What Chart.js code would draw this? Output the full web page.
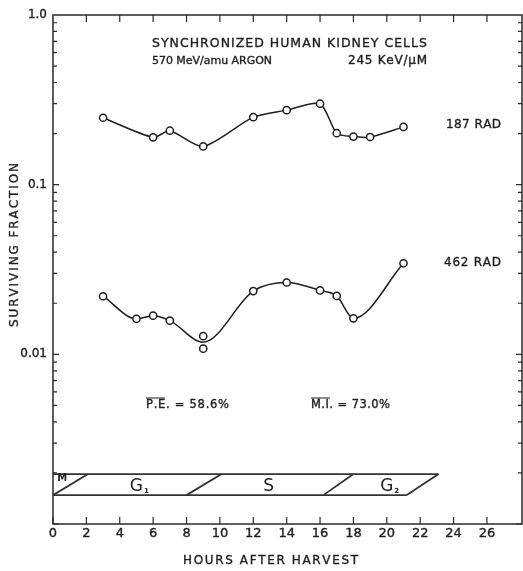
<!DOCTYPE html>
<html>
<head>
<meta charset="utf-8">
<script src="https://cdn.jsdelivr.net/npm/chart.js@4.4.1/dist/chart.umd.min.js"></script>
<style>
  html, body { margin: 0; padding: 0; background: #fff; }
  .chart-wrapper { position: relative; width: 523px; height: 571px; }
</style>
</head>
<body>
<div class="chart-wrapper"><canvas id="myChart"></canvas></div>
<script>
// surviving fraction vs hours after harvest
const hours187 = [3, 6, 7, 9, 12, 14, 16, 17, 18, 19, 21];
const fraction187 = [0.248, 0.19, 0.208, 0.168, 0.25, 0.275, 0.30, 0.201, 0.192, 0.191, 0.219];

const hours462 = [3, 5, 6, 7, 9, 9, 12, 14, 16, 17, 18, 21];
const fraction462 = [0.0220, 0.0162, 0.0169, 0.0158, 0.0128, 0.0108, 0.0236, 0.0265, 0.0238, 0.0221, 0.0163, 0.0344];

// the hand drawn curve for 462 rad runs between the two 9 h points
const curveHours462 = [3, 5, 6, 7, 9, 12, 14, 16, 17, 18, 21];
const curveFraction462 = [0.0220, 0.0162, 0.0169, 0.0158, 0.0118, 0.0236, 0.0265, 0.0238, 0.0221, 0.0163, 0.0344];

// cell cycle band at the bottom
const bandTop = 0.00197;
const bandBottom = 0.00148;
const phaseStartBottom = [0, 8.0, 16.2, 21.2];
const phaseStartTop = [2.1, 10.1, 18.0, 23.1];
const phaseNames = ['M', 'G', 'S', 'G'];
const phaseSubs = ['', '1', '', '2'];
const phaseLabelHours = [0.5, 4.6, 12.6, 19.6];
const phaseLabelFractions = [0.00186, 0.00166, 0.00166, 0.00166];

// axes
const xTickHours = [0, 2, 4, 6, 8, 10, 12, 14, 16, 18, 20, 22, 24, 26];
const xTickLabels = ['0', '2', '4', '6', '8', '10', '12', '14', '16', '18', '20', '22', '24', '26'];
const yTickValues = [1, 0.1, 0.01];
const yTickLabels = ['1.0', '0.1', '0.01'];

const ink = '#1e1e1e';
const font = '"DejaVu Sans", sans-serif';

const toXY = (xs, ys) => xs.map((h, i) => ({ x: h, y: ys[i] }));

// draw text stretched between x0 and x1, like stencil lettering
const spread = (ctx, text, x0, x1, y) => {
    const chars = [...text];
    const widths = chars.map(c => ctx.measureText(c).width);
    const total = widths.reduce((a, b) => a + b, 0);
    const gap = chars.length > 1 ? (x1 - x0 - total) / (chars.length - 1) : 0;
    let cx = x0;
    chars.forEach((c, i) => {
        ctx.fillText(c, cx, y);
        ctx.strokeText(c, cx, y);
        cx += widths[i] + gap;
    });
};

const bandSets = [];
bandSets.push({ data: [{ x: 0, y: bandTop }, { x: phaseStartTop[3], y: bandTop }] });
bandSets.push({ data: [{ x: 0, y: bandBottom }, { x: phaseStartBottom[3], y: bandBottom }] });
phaseStartBottom.forEach((h, i) => {
    bandSets.push({ data: [{ x: h, y: bandBottom }, { x: phaseStartTop[i], y: bandTop }] });
});
bandSets.forEach(s => Object.assign(s, {
    showLine: true, borderColor: '#333', borderWidth: 1.8, pointRadius: 0, tension: 0, order: 3
}));

const frame = {
    id: 'frame',
    beforeDatasetsDraw(chart) {
        const { ctx, chartArea: a, scales: { x, y } } = chart;
        ctx.save();
        ctx.strokeStyle = '#2a2a2a';
        ctx.lineWidth = 1.5;
        ctx.strokeRect(a.left, a.top, a.right - a.left, a.bottom - a.top);

        ctx.beginPath();
        xTickHours.forEach(h => {
            const px = x.getPixelForValue(h);
            ctx.moveTo(px, a.bottom);
            ctx.lineTo(px, a.bottom - 7);
            if (h > 0) {
                ctx.moveTo(px, a.top);
                ctx.lineTo(px, a.top + 7);
            }
        });
        for (let d = -3; d < 0; d++) {
            for (let m = 1; m < 10; m++) {
                const py = y.getPixelForValue(m * Math.pow(10, d));
                const len = m === 1 ? 6 : 4;
                ctx.moveTo(a.left, py);
                ctx.lineTo(a.left + len, py);
                ctx.moveTo(a.right, py);
                ctx.lineTo(a.right - len, py);
            }
        }
        ctx.lineWidth = 1.2;
        ctx.stroke();
        ctx.restore();
    },
    afterDraw(chart) {
        const { ctx, chartArea: a, scales: { x, y } } = chart;
        ctx.save();
        ctx.fillStyle = ink;
        ctx.strokeStyle = ink;
        ctx.lineWidth = 0.35;
        ctx.textBaseline = 'middle';

        // tick labels
        ctx.font = '13px ' + font;
        ctx.textAlign = 'center';
        xTickHours.forEach((h, i) => {
            const px = x.getPixelForValue(h);
            ctx.fillText(xTickLabels[i], px, a.bottom + 10);
            ctx.strokeText(xTickLabels[i], px, a.bottom + 10);
        });
        ctx.textAlign = 'right';
        ctx.font = '12px ' + font;
        yTickValues.forEach((v, i) => {
            const py = y.getPixelForValue(v);
            ctx.fillText(yTickLabels[i], a.left - 6, py);
            ctx.strokeText(yTickLabels[i], a.left - 6, py);
        });

        ctx.textAlign = 'left';
        ctx.font = '12px ' + font;
        spread(ctx, 'HOURS AFTER HARVEST', 183, 358, 561);
        ctx.save();
        ctx.translate(15, 245);
        ctx.rotate(-Math.PI / 2);
        spread(ctx, 'SURVIVING FRACTION', -82, 82, 0);
        ctx.restore();

        // notes inside the plot
        ctx.font = '12.5px ' + font;
        spread(ctx, 'SYNCHRONIZED HUMAN KIDNEY CELLS', 152, 427, 44);
        ctx.font = '11px ' + font;
        spread(ctx, '570 MeV/amu ARGON', 152, 272, 61);
        ctx.font = '12px ' + font;
        spread(ctx, '245 KeV/\u03bcM', 348, 427, 61);
        spread(ctx, '187 RAD', 446, 501, 125);
        spread(ctx, '462 RAD', 444, 501, 263);

        ctx.font = '11.5px ' + font;
        spread(ctx, 'P.E. = 58.6%', 146, 229, 405);
        spread(ctx, 'M.I. = 73.0%', 311, 390, 405);
        ctx.lineWidth = 1.2;
        ctx.beginPath();
        ctx.moveTo(146, 398); ctx.lineTo(165, 398);
        ctx.moveTo(311, 398); ctx.lineTo(330, 398);
        ctx.stroke();
        ctx.lineWidth = 0.35;

        // cell cycle phases
        phaseNames.forEach((name, i) => {
            const px = x.getPixelForValue(phaseLabelHours[i]);
            const py = y.getPixelForValue(phaseLabelFractions[i]);
            if (i === 0) {
                ctx.font = 'bold 10px ' + font;
                ctx.textAlign = 'center';
                ctx.fillText(name, px + 1, py);
                return;
            }
            ctx.font = '17px ' + font;
            ctx.textAlign = 'left';
            ctx.fillText(name, px, py);
            if (phaseSubs[i]) {
                const w = ctx.measureText(name).width;
                ctx.font = 'bold 7px ' + font;
                ctx.fillText(phaseSubs[i], px + w + 1, py + 5);
            }
        });
        ctx.restore();
    }
};

const ref = document.getElementById('myChart');
new Chart(ref.getContext('2d'), {
    type: 'scatter',
    data: {
        datasets: [
            {
                label: '187 RAD',
                data: toXY(hours187, fraction187),
                showLine: true,
                borderColor: ink,
                borderWidth: 1.5,
                tension: 0.25,
                pointRadius: 3.6,
                pointBorderWidth: 1.5,
                pointBorderColor: ink,
                pointBackgroundColor: '#fff',
                order: 0
            },
            {
                label: '462 RAD',
                data: toXY(hours462, fraction462),
                showLine: false,
                pointRadius: 3.6,
                pointBorderWidth: 1.5,
                pointBorderColor: ink,
                pointBackgroundColor: '#fff',
                order: 0
            },
            {
                label: '462 RAD curve',
                data: toXY(curveHours462, curveFraction462),
                showLine: true,
                borderColor: ink,
                borderWidth: 1.5,
                cubicInterpolationMode: 'monotone',
                pointRadius: 0,
                order: 1
            },
            ...bandSets
        ]
    },
    options: {
        responsive: true,
        maintainAspectRatio: false,
        animation: false,
        layout: { autoPadding: false, padding: { left: 53, right: 1, top: 15, bottom: 47 } },
        plugins: { legend: { display: false }, tooltip: { enabled: false } },
        scales: {
            x: { type: 'linear', min: 0, max: 28.1, display: false },
            y: { type: 'logarithmic', min: 0.001, max: 1, display: false }
        }
    },
    plugins: [frame]
});
</script>
</body>
</html>
